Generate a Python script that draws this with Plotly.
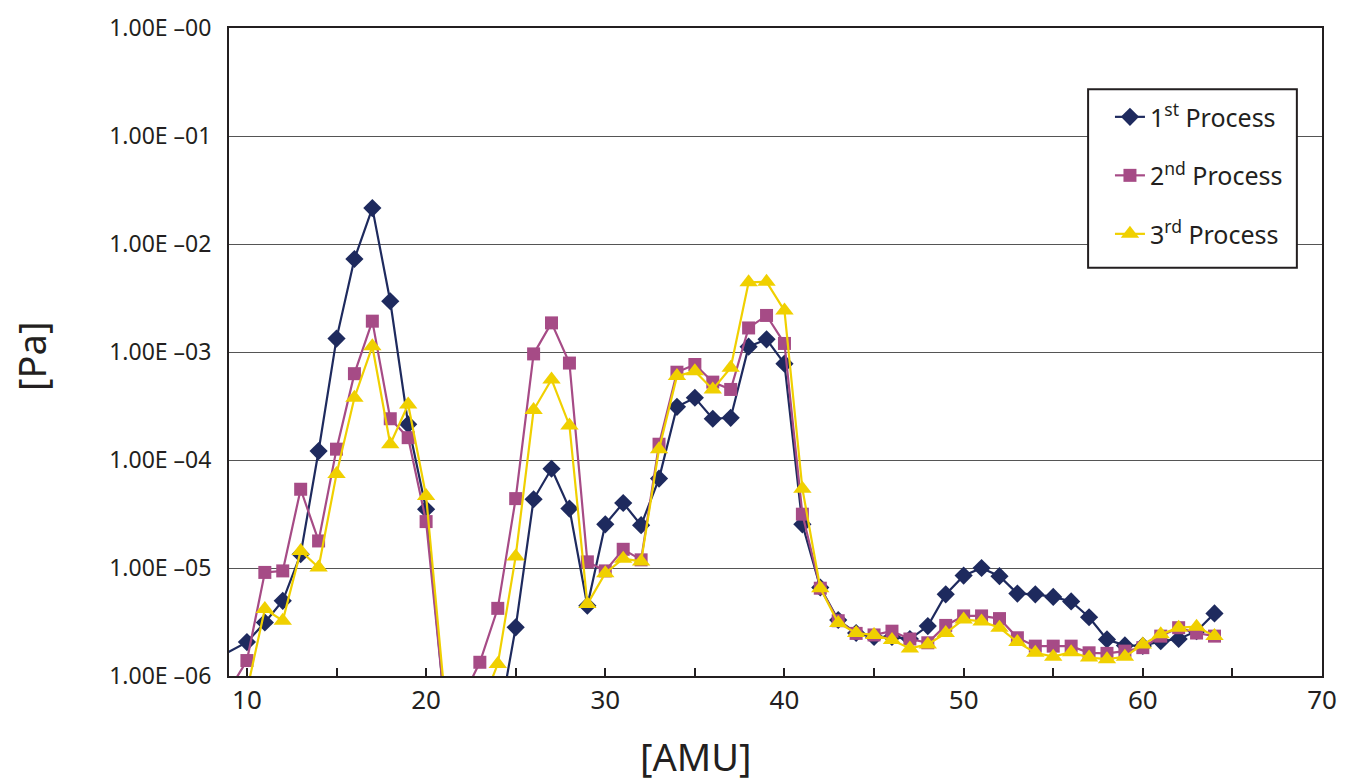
import plotly.graph_objects as go

# AMU values (x=8 is an off-axis point to the left of the visible range)
amu = list(range(8, 65))

# 1st Process (navy diamonds)
p1 = [1.36e-6, None, 2.06e-6, 3.13e-6, 4.97e-6, 1.34e-5, 1.21e-4, 1.33e-3, 7.26e-3, 2.15e-2,
      2.95e-3, 2.14e-4, 3.5e-5, 6e-7, 3e-7, 3e-7, 3.3e-7, 2.82e-6, 4.33e-5, 8.3e-5,
      3.55e-5, 4.47e-6, 2.54e-5, 4.0e-5, 2.49e-5, 6.73e-5, 3.11e-4, 3.77e-4, 2.41e-4, 2.46e-4,
      1.12e-3, 1.31e-3, 7.8e-4, 2.54e-5, 6.6e-6, 3.3e-6, 2.5e-6, 2.3e-6, 2.3e-6, 2.2e-6,
      2.9e-6, 5.7e-6, 8.5e-6, 1.0e-5, 8.4e-6, 5.8e-6, 5.7e-6, 5.4e-6, 4.9e-6, 3.5e-6,
      2.18e-6, 1.92e-6, 1.9e-6, 2.1e-6, 2.2e-6, 2.6e-6, 3.8e-6]

# 2nd Process (magenta squares)
p2 = [5e-7, 7.4e-7, 1.39e-6, 9.1e-6, 9.4e-6, 5.36e-5, 1.78e-5, 1.26e-4, 6.3e-4, 1.93e-3,
      2.41e-4, 1.61e-4, 2.69e-5, 6.1e-7, 6.1e-7, 1.34e-6, 4.23e-6, 4.39e-5, 9.6e-4, 1.86e-3,
      7.9e-4, 1.14e-5, 9.4e-6, 1.49e-5, 1.19e-5, 1.40e-4, 6.5e-4, 7.66e-4, 5.26e-4, 4.5e-4,
      1.67e-3, 2.18e-3, 1.2e-3, 3.15e-5, 6.5e-6, 3.25e-6, 2.48e-6, 2.4e-6, 2.6e-6, 2.2e-6,
      2.03e-6, 2.94e-6, 3.6e-6, 3.6e-6, 3.4e-6, 2.26e-6, 1.89e-6, 1.89e-6, 1.89e-6, 1.64e-6,
      1.62e-6, 1.7e-6, 1.83e-6, 2.34e-6, 2.8e-6, 2.5e-6, 2.34e-6]

# 3rd Process (yellow triangles)
p3 = [3e-7, 4e-7, 7.3e-7, 4.17e-6, 3.25e-6, 1.44e-5, 1.01e-5, 7.4e-5, 3.77e-4, 1.13e-3,
      1.40e-4, 3.27e-4, 4.65e-5, 7.5e-7, 5e-7, 4.9e-7, 1.29e-6, 1.28e-5, 2.9e-4, 5.57e-4,
      2.09e-4, 4.63e-6, 8.96e-6, 1.22e-5, 1.15e-5, 1.26e-4, 5.98e-4, 6.65e-4, 4.5e-4, 7.14e-4,
      4.42e-3, 4.46e-3, 2.42e-3, 5.43e-5, 6.5e-6, 3.1e-6, 2.5e-6, 2.4e-6, 2.15e-6, 1.8e-6,
      1.96e-6, 2.5e-6, 3.34e-6, 3.2e-6, 2.8e-6, 2.06e-6, 1.64e-6, 1.51e-6, 1.66e-6, 1.48e-6,
      1.43e-6, 1.51e-6, 1.96e-6, 2.43e-6, 2.8e-6, 2.86e-6, 2.34e-6]

series_names = ["1<sup>st</sup> Process", "2<sup>nd</sup> Process", "3<sup>rd</sup> Process"]
y_tickvals = [1e-6, 1e-5, 1e-4, 1e-3, 1e-2, 1e-1, 1e0]
y_ticktext = ["1.00E \u201306", "1.00E \u201305", "1.00E \u201304", "1.00E \u201303",
              "1.00E \u201302", "1.00E \u201301", "1.00E \u201300"]

TXT = "#231f20"
FONT = "Noto Sans"

styles = [
    dict(color="#1e2a5e", symbol="diamond", size=14),
    dict(color="#a64b86", symbol="square", size=13),
    dict(color="#f0d000", symbol="triangle-up", size=16),
]

fig = go.Figure()
for name, ys, st in zip(series_names, [p1, p2, p3], styles):
    fig.add_trace(go.Scatter(
        x=amu, y=ys, name=name, mode="lines+markers", connectgaps=True,
        legendgroup=name,
        line=dict(color=st["color"], width=2.2),
        marker=dict(color=st["color"], symbol=st["symbol"], size=st["size"],
                    line=dict(width=0)),
        cliponaxis=True,
    ))

# page body has an 8px offset; figure fills the rest of the window
fig.update_layout(
    width=1338, height=773,
    margin=dict(l=221, r=24, t=20, b=105, pad=0, autoexpand=False),
    paper_bgcolor="white", plot_bgcolor="white",
    font=dict(family=FONT, color=TXT),
    showlegend=True,
    legend=dict(x=0.806, y=0.898, xanchor="left", yanchor="top",
                bgcolor="rgba(0,0,0,0)", borderwidth=0,
                font=dict(size=25, family=FONT, color=TXT),
                tracegroupgap=23, itemwidth=30, traceorder="grouped"),
    xaxis=dict(range=[9, 70], tickmode="linear", tick0=0, dtick=10,
               ticks="inside", ticklen=8, tickwidth=2, tickcolor=TXT,
               minor=dict(ticks="inside", ticklen=8, tickwidth=2, tickcolor=TXT,
                          tick0=0, dtick=5),
               showline=True, linewidth=2, linecolor=TXT, mirror=True,
               showgrid=False, zeroline=False, automargin=False,
               tickfont=dict(size=26, family=FONT, color=TXT)),
    yaxis=dict(type="log", range=[-6, 0], tickmode="array",
               tickvals=y_tickvals, ticktext=y_ticktext,
               ticks="", showline=True, linewidth=2, linecolor=TXT, mirror=True,
               showgrid=True, gridcolor="#555555", gridwidth=1.3, zeroline=False,
               ticklabelstandoff=11, automargin=False,
               tickfont=dict(size=23, family=FONT, color=TXT)),
    shapes=[
        dict(type="rect", xref="paper", yref="paper",
             x0=0.786, x1=0.977, y0=0.630, y1=0.9055,
             line=dict(color=TXT, width=2), fillcolor="white", layer="above"),
    ],
    annotations=[
        dict(text="[Pa]", xref="paper", yref="paper", x=-0.181, y=0.4927,
             xanchor="center", yanchor="middle", textangle=-90, showarrow=False,
             font=dict(size=38, family=FONT, color=TXT)),
        dict(text="[AMU]", xref="paper", yref="paper", x=0.4273, y=-0.124,
             xanchor="center", yanchor="middle", showarrow=False,
             font=dict(size=38, family=FONT, color=TXT)),
    ],
)

fig.write_html("out.html")
